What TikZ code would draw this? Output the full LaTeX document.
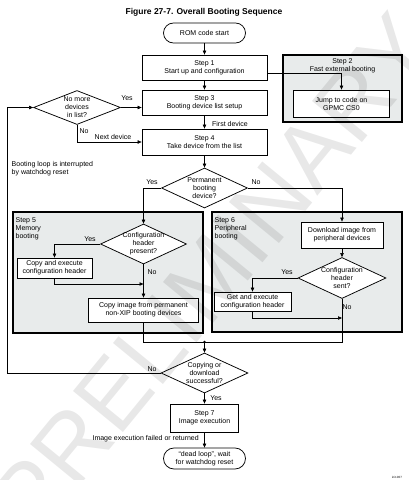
\documentclass[tikz,border=0pt]{standalone}
\usepackage{fontspec}
\setmainfont{Liberation Sans}
\usetikzlibrary{arrows.meta,shapes.geometric}
\definecolor{grpfill}{RGB}{232,235,235}
\tikzset{
  every node/.style={font=\fontsize{7}{8}\selectfont},
  ln/.style={line width=0.6pt},
  arr/.style={ln,-{Triangle[length=4pt,width=3.4pt]}},
  box/.style={draw,fill=white,line width=0.75pt,align=center,inner sep=0pt},
  term/.style={box,rounded corners=10pt},
  dia/.style={diamond,draw,fill=white,line width=0.75pt,inner sep=0pt},
  dtxt/.style={align=center,inner sep=0pt},
  grp/.style={draw,line width=1.5pt,fill=grpfill,inner sep=0pt},
  lbl/.style={inner sep=0pt},
}
\begin{document}
\begin{tikzpicture}[x=1pt,y=-1pt]
\useasboundingbox (0,0) rectangle (408,480);
\clip (0,0) rectangle (408,480);
% title
\node[font=\bfseries\fontsize{8.5}{10}\selectfont] (title) at (204,12) {Figure 27-7. Overall Booting Sequence};
% group boxes
\node[grp,minimum width=119pt,minimum height=67pt] (s2) at (342.5,88.5) {};
\node[grp,minimum width=190pt,minimum height=121pt] (s5) at (108,272.5) {};
\node[grp,minimum width=190pt,minimum height=120pt] (s6) at (307,272) {};
\node[dtxt] (s2t) at (342.5,65.5) {Step 2\\Fast external booting};
\node[lbl,anchor=north west,align=left] (s5t) at (15.5,217.5) {Step 5\\Memory\\booting};
\node[lbl,anchor=north west,align=left] (s6t) at (214.5,217.5) {Step 6\\Peripheral\\booting};
% main nodes
\node[term,minimum width=82pt,minimum height=20pt] (rom) at (204.5,33) {ROM code start};
\node[box,minimum width=125pt,minimum height=25pt] (s1) at (204.5,67.5) {Step 1\\Start up and configuration};
\node[box,minimum width=96pt,minimum height=27pt] (jump) at (341.5,103.5) {Jump to code on\\GPMC CS0};
\node[box,minimum width=125pt,minimum height=25pt] (s3) at (204.5,102.5) {Step 3\\Booting device list setup};
\node[box,minimum width=125pt,minimum height=26pt] (s4) at (204.5,142) {Step 4\\Take device from the list};
\node[dia,minimum width=87pt,minimum height=34pt] (dmore) at (77,107.5) {};
\node[dtxt] (dmoret) at (77,107.5) {No more\\devices\\in list?};
\node[dia,minimum width=86pt,minimum height=40pt] (dperm) at (204.5,188) {};
\node[dtxt] (dpermt) at (204.5,188) {Permanent\\booting\\device?};
\node[dia,minimum width=86pt,minimum height=40pt] (dcfg5) at (143.5,244) {};
\node[dtxt] (dcfg5t) at (143.5,244) {Configuration\\header\\present?};
\node[box,minimum width=75pt,minimum height=20pt] (cpy) at (54.5,268) {Copy and execute\\configuration header};
\node[box,minimum width=110pt,minimum height=24pt] (cpyimg) at (143.5,310) {Copy image from permanent\\non-XIP booting devices};
\node[box,minimum width=82pt,minimum height=26pt] (dl) at (342,235) {Download image from\\peripheral devices};
\node[dia,minimum width=88pt,minimum height=41pt] (dcfg6) at (342,278) {};
\node[dtxt] (dcfg6t) at (342,278) {Configuration\\header\\sent?};
\node[box,minimum width=77pt,minimum height=19pt] (get) at (252.5,301.5) {Get and execute\\configuration header};
\node[dia,minimum width=87pt,minimum height=40pt] (dcopy) at (204.5,373) {};
\node[dtxt] (dcopyt) at (204.5,373) {Copying or\\download\\successful?};
\node[box,minimum width=68pt,minimum height=28pt] (s7) at (204.5,418) {Step 7\\Image execution};
\node[term,rounded corners=10.5pt,minimum width=82pt,minimum height=21pt] (dead) at (204.5,458.5) {``dead loop'', wait\\for watchdog reset};
% coordinates
\coordinate (j5) at (143.5,284);
\coordinate (j6) at (342,318);
\coordinate (m) at (204.5,342);
\coordinate (lpb) at (7,373);
% connectors
\draw[arr] (rom) -- (s1);
\draw[arr] ([yshift=-5.5pt]s1.east) -| (jump.north);
\draw[arr] (s1) -- (s3);
\draw[arr] (s3) -- (s4);
\draw[arr] (dmore.east) -- (dmore.east -| s3.west);
\draw[arr] (dmore.south) |- (s4.west);
\draw[arr] (s4) -- (dperm);
\draw[arr] (dperm.west) -| (dcfg5.north);
\draw[arr] (dperm.east) -| (dl.north);
\draw[arr] (dcfg5.west) -| (cpy.north);
\draw[arr] (cpy.south) |- (j5);
\draw[arr] (dcfg5.south) -- (cpyimg.north);
\draw[arr] (dl) -- (dcfg6);
\draw[arr] (dcfg6.west) -| (get.north);
\draw[arr] (get.south) |- (j6);
\draw[ln] (cpyimg.south) |- (m);
\draw[ln] (dcfg6.south) |- (m);
\fill (m) circle (1.5pt);
\draw[arr] (m) -- (dcopy.north);
\draw[arr] (dcopy.west) -- (lpb) |- (dmore.west);
\draw[arr] (dcopy.south) -- (s7.north);
\draw[arr] (s7.south) -- (dead.north);
% labels
\node[lbl] (ly1) at (127,98) {Yes};
\node[lbl] (ln1) at (84,131) {No};
\node[lbl] (lnext) at (113,137) {Next device};
\node[lbl] (lfirst) at (230,124) {First device};
\node[lbl,anchor=north west,align=left] (loopnote) at (11.5,161.5) {Booting loop is interrupted\\by watchdog reset};
\node[lbl] (ly2) at (152,182) {Yes};
\node[lbl] (ln2) at (256,182) {No};
\node[lbl] (ly3) at (90,239) {Yes};
\node[lbl] (ln3) at (152,272) {No};
\node[lbl] (ly4) at (287,272) {Yes};
\node[lbl] (ln4) at (347,307) {No};
\node[lbl] (ln5) at (152,369) {No};
\node[lbl] (ly5) at (216,398) {Yes};
\node[lbl,anchor=east] (lfail) at (199,439) {Image execution failed or returned};
\node[lbl,font=\fontsize{3}{3}\selectfont] (init) at (397,477) {init-007};
% watermark
\node[rotate=50.6,font=\fontsize{94}{94}\selectfont,text=black,opacity=0.09,text opacity=0.09] (wm) at (212.5,273.6) {PRELIMINARY};
\end{tikzpicture}
\end{document}
